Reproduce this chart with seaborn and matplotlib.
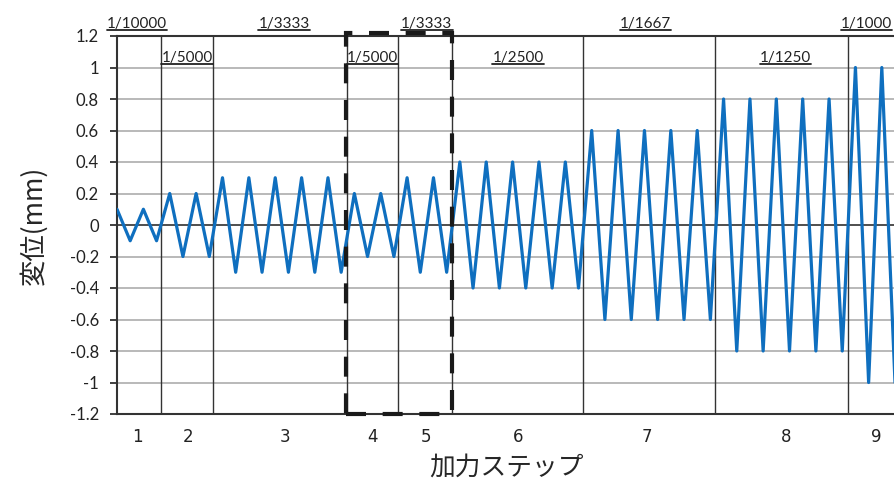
import numpy as np
import pandas as pd
import matplotlib
matplotlib.use("Agg")
import matplotlib.pyplot as plt
import seaborn as sns
from matplotlib.lines import Line2D
from matplotlib.patches import Rectangle

# displacement per loading point (mm), grouped by loading step
disp_step1 = [0.1, -0.1, 0.1, -0.1]
disp_step2 = [0.2, -0.2, 0.2, -0.2]
disp_step3 = [0.3, -0.3, 0.3, -0.3, 0.3, -0.3, 0.3, -0.3, 0.3, -0.3]
disp_step4 = [0.2, -0.2, 0.2, -0.2]
disp_step5 = [0.3, -0.3, 0.3, -0.3]
disp_step6 = [0.4, -0.4, 0.4, -0.4, 0.4, -0.4, 0.4, -0.4, 0.4, -0.4]
disp_step7 = [0.6, -0.6, 0.6, -0.6, 0.6, -0.6, 0.6, -0.6, 0.6, -0.6]
disp_step8 = [0.8, -0.8, 0.8, -0.8, 0.8, -0.8, 0.8, -0.8, 0.8, -0.8]
disp_step9 = [1.0, -1.0, 1.0, -1.0]

step_names = ["1", "2", "3", "4", "5", "6", "7", "8", "9"]
drift_labels = ["1/10000", "1/5000", "1/3333", "1/5000", "1/3333",
                "1/2500", "1/1667", "1/1250", "1/1000"]
# step boundaries on the point index axis
step_bounds = [3.35, 7.3, 17.45, 21.3, 25.4, 35.35, 45.35, 55.4]
y_ticks = [1.2, 1.0, 0.8, 0.6, 0.4, 0.2, 0.0, -0.2, -0.4, -0.6, -0.8, -1.0, -1.2]
# highlighted region (steps 4-5)
box_x = [17.36, 25.4]

# label anchor points on the index axis (layout)
step_label_x = [1.52, 5.38, 12.74, 19.41, 23.43, 30.41, 40.19, 50.74, 57.56]
drift_label_x = [1.52, 5.31, 12.66, 19.38, 23.5, 30.41, 40.08, 50.7, 56.84]

disp = (disp_step1 + disp_step2 + disp_step3 + disp_step4 + disp_step5
        + disp_step6 + disp_step7 + disp_step8 + disp_step9)
df = pd.DataFrame({"point": np.arange(len(disp)), "disp": disp})

sns.set_style("white")
plt.rcParams["font.family"] = ["Noto Sans CJK JP", "DejaVu Sans"]

fig = plt.figure(figsize=(8.95, 4.8), dpi=100)
ax = fig.add_axes([117 / 895, 66 / 480, 778 / 895, 378 / 480])

# gridlines
for v in y_ticks:
    if v == 0.0:
        ax.axhline(v, color="#404040", lw=1.3, zorder=1)
    else:
        ax.axhline(v, color="#A6A6A6", lw=1.1, zorder=1)

# step boundaries
for b in step_bounds:
    ax.axvline(b, color="#333333", lw=1.0, zorder=2)

sns.lineplot(data=df, x="point", y="disp", color="#0F6FBF", linewidth=2.3,
             ax=ax, zorder=3)

ax.set_xlim(0, len(disp) - 1)
ax.set_ylim(-1.2, 1.2)

ax.set_yticks(y_ticks)
ax.set_yticklabels([("%g" % v) if v != 0 else "0" for v in y_ticks],
                   family=["Lato", "DejaVu Sans"], fontsize=12, color="#222222")
ax.tick_params(axis="y", direction="out", length=5, width=1.4,
               color="#404040", pad=8, left=True)

ax.set_xticks(step_label_x)
ax.set_xticklabels(step_names, family=["Liberation Sans Narrow", "DejaVu Sans"],
                   fontsize=12, color="#222222")
ax.tick_params(axis="x", length=0, pad=10)

for side in ["left", "top", "bottom"]:
    ax.spines[side].set_color("#333333")
    ax.spines[side].set_linewidth(1.5)
ax.spines["right"].set_visible(False)

ax.set_ylabel("変位(mm)", fontsize=19, labelpad=16)
ax.set_xlabel("加力ステップ", fontsize=18.5, labelpad=6)

# drift ratio labels, odd steps above the frame, even steps inside
label_texts = []
for i, lab in enumerate(drift_labels):
    y = 1.021 if i % 2 == 0 else 0.93
    t = ax.text(drift_label_x[i], y, lab, transform=ax.get_xaxis_transform(),
                ha="center", va="baseline", fontsize=11,
                family=["Lato", "DejaVu Sans"], color="#222222", zorder=5)
    label_texts.append(t)

# dashed box
rect = Rectangle((box_x[0], -1.2), box_x[1] - box_x[0], 2.42, fill=False,
                 edgecolor="#1A1A1A", lw=3.0, linestyle=(0, (4.8, 4.0)),
                 clip_on=False, zorder=6)
ax.add_patch(rect)

# underline the drift labels
fig.canvas.draw()
renderer = fig.canvas.get_renderer()
inv = fig.transFigure.inverted()
for t in label_texts:
    bb = t.get_window_extent(renderer)
    (x0, y0), (x1, _) = inv.transform([(bb.x0, bb.y0 + 1), (bb.x1, bb.y0 + 1)])
    fig.add_artist(Line2D([x0, x1], [y0, y0], transform=fig.transFigure,
                          color="#222222", lw=1.3))

fig.savefig("out.png", dpi=100)
